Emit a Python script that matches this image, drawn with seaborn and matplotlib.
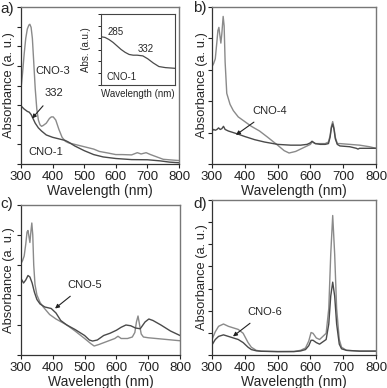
import numpy as np
import seaborn as sns
import matplotlib.pyplot as plt

# ---- data (absorbance in arbitrary, normalised units) ----
# panel a
a_cno3_wl = [300, 305, 310, 315, 320, 325, 328, 332, 336, 340, 345, 350, 355, 360, 365, 370, 380, 390,
             396, 402, 410, 420, 430, 440, 450, 470, 500, 530, 548, 575, 600, 620, 650, 668, 680, 696,
             710, 730, 750, 780, 800]
a_cno3_abs = [0.48, 0.58, 0.70, 0.80, 0.86, 0.885, 0.89, 0.87, 0.80, 0.66, 0.48, 0.35, 0.28, 0.25, 0.24,
              0.245, 0.26, 0.29, 0.30, 0.30, 0.28, 0.22, 0.17, 0.145, 0.135, 0.125, 0.11, 0.095, 0.08,
              0.07, 0.06, 0.06, 0.058, 0.072, 0.064, 0.072, 0.06, 0.045, 0.03, 0.025, 0.022]
a_cno1_wl = [300, 310, 320, 326, 332, 338, 345, 355, 365, 380, 400, 420, 440, 450, 470, 500, 530, 560,
             600, 650, 700, 740, 770, 800]
a_cno1_abs = [0.37, 0.35, 0.335, 0.33, 0.315, 0.29, 0.26, 0.23, 0.21, 0.185, 0.17, 0.16, 0.15, 0.14,
              0.115, 0.085, 0.06, 0.045, 0.035, 0.028, 0.027, 0.02, 0.012, 0.008]
inset_wl = [280, 285, 290, 295, 300, 305, 310, 315, 320, 325, 332, 338, 345, 352, 360, 372]
inset_abs = [0.68, 0.67, 0.64, 0.60, 0.55, 0.50, 0.46, 0.43, 0.42, 0.42, 0.41, 0.37, 0.31, 0.26, 0.245, 0.235]

# panel b
b_light_wl = [300, 305, 310, 315, 318, 321, 324, 327, 330, 334, 337, 340, 345, 355, 365, 380, 400, 420,
              445, 470, 500, 520, 535, 555, 575, 590, 600, 605, 615, 630, 645, 655, 660, 664, 668, 672,
              676, 682, 690, 720, 750, 780, 800]
b_light_abs = [0.62, 0.64, 0.67, 0.78, 0.85, 0.87, 0.82, 0.77, 0.83, 0.94, 0.88, 0.65, 0.45, 0.38, 0.34,
               0.30, 0.27, 0.24, 0.21, 0.17, 0.12, 0.085, 0.07, 0.08, 0.10, 0.115, 0.125, 0.14, 0.13,
               0.13, 0.13, 0.14, 0.18, 0.24, 0.27, 0.23, 0.17, 0.13, 0.13, 0.125, 0.12, 0.11, 0.10]
b_cno4_wl = [300, 305, 310, 315, 320, 325, 330, 335, 340, 350, 365, 380, 400, 430, 460, 500, 540, 570,
             590, 600, 605, 615, 630, 645, 655, 660, 664, 668, 672, 676, 682, 690, 720, 740, 745, 750,
             780, 800]
b_cno4_abs = [0.21, 0.22, 0.215, 0.22, 0.23, 0.22, 0.225, 0.24, 0.22, 0.21, 0.20, 0.19, 0.175, 0.155,
              0.14, 0.125, 0.12, 0.12, 0.125, 0.135, 0.145, 0.13, 0.125, 0.125, 0.13, 0.17, 0.23, 0.255,
              0.22, 0.16, 0.125, 0.115, 0.11, 0.10, 0.095, 0.10, 0.10, 0.10]

# panel c
c_light_wl = [300, 305, 310, 315, 319, 322, 325, 328, 331, 334, 337, 340, 344, 350, 360, 370, 390, 410,
              444, 470, 500, 520, 530, 545, 570, 595, 605, 615, 635, 650, 658, 663, 668, 673, 678, 685,
              700, 750, 800]
c_light_abs = [0.61, 0.63, 0.66, 0.74, 0.82, 0.83, 0.79, 0.75, 0.82, 0.88, 0.80, 0.60, 0.47, 0.40, 0.35,
               0.32, 0.27, 0.24, 0.20, 0.16, 0.11, 0.075, 0.06, 0.07, 0.09, 0.11, 0.125, 0.11, 0.11,
               0.12, 0.15, 0.22, 0.26, 0.20, 0.14, 0.12, 0.115, 0.105, 0.095]
c_cno5_wl = [300, 308, 315, 322, 328, 335, 342, 350, 360, 375, 395, 410, 425, 444, 470, 500, 515, 525,
             540, 560, 580, 600, 615, 630, 645, 660, 675, 690, 702, 715, 740, 770, 800]
c_cno5_abs = [0.51, 0.48, 0.50, 0.53, 0.52, 0.48, 0.42, 0.37, 0.34, 0.32, 0.31, 0.28, 0.23, 0.20, 0.17,
              0.13, 0.10, 0.093, 0.10, 0.13, 0.145, 0.165, 0.185, 0.20, 0.195, 0.18, 0.175, 0.22, 0.24,
              0.23, 0.20, 0.16, 0.13]

# panel d
d_wl = [300, 310, 320, 335, 350, 365, 380, 395, 410, 420, 435, 450, 500, 550, 570, 585, 595, 602, 608,
        618, 628, 638, 648, 656, 662, 668, 674, 680, 688, 695, 710, 750, 800]
d_high_abs = [0.10, 0.15, 0.185, 0.20, 0.185, 0.175, 0.165, 0.14, 0.08, 0.05, 0.03, 0.025, 0.022, 0.023,
              0.03, 0.045, 0.09, 0.145, 0.14, 0.11, 0.10, 0.12, 0.14, 0.30, 0.65, 0.90, 0.65, 0.30,
              0.10, 0.05, 0.03, 0.025, 0.025]
d_low_abs = [0.065, 0.10, 0.12, 0.13, 0.12, 0.11, 0.10, 0.08, 0.05, 0.035, 0.027, 0.024, 0.022, 0.022,
             0.026, 0.035, 0.06, 0.095, 0.095, 0.08, 0.07, 0.085, 0.10, 0.20, 0.38, 0.47, 0.38, 0.20,
             0.07, 0.04, 0.03, 0.025, 0.025]

x_ticks = [300, 400, 500, 600, 700, 800]

sns.set_style("ticks")
plt.rcParams['font.family'] = ['Liberation Sans', 'DejaVu Sans']

dark = '#4a4a4a'
light = '#8a8a8a'

W, H = 387, 388
fig = plt.figure(figsize=(W / 100, H / 100), dpi=100)


def px_axes(left, top, right, bottom):
    return fig.add_axes([left / W, 1 - bottom / H, (right - left) / W, (bottom - top) / H])


def style(ax, n_yticks, ylab_x):
    ax.set_xlim(300, 800)
    ax.set_ylim(0, 1)
    ax.set_xticks(x_ticks)
    ax.set_yticks(np.linspace(0, 1, n_yticks + 1))
    ax.set_yticklabels([])
    ax.tick_params(direction='out', length=3, width=0.8, labelsize=9.5, pad=2, colors='#222')
    ax.set_xlabel('Wavelength (nm)', fontsize=10, labelpad=1)
    ax.set_ylabel('Absorbance (a. u.)', fontsize=9.3)
    ax.yaxis.set_label_coords(ylab_x, 0.5)
    for s in ['left', 'bottom']:
        ax.spines[s].set_color('#333')
        ax.spines[s].set_linewidth(0.9)
    for s in ['top', 'right']:
        ax.spines[s].set_visible(True)
        ax.spines[s].set_color('#777')
        ax.spines[s].set_linewidth(1.0)


def label(ax, text, xy_text, xy_tip, size=8):
    ax.annotate(text, xy=xy_tip, xytext=xy_text, fontsize=size, ha='center', va='center',
                arrowprops=dict(arrowstyle='-|>', color='#222', lw=0.8, mutation_scale=6,
                                shrinkA=4, shrinkB=0))


# a)
ax = px_axes(21, 7, 179, 164)
sns.lineplot(x=a_cno3_wl, y=a_cno3_abs, ax=ax, color=light, lw=1.0)
sns.lineplot(x=a_cno1_wl, y=a_cno1_abs, ax=ax, color=dark, lw=1.0)
style(ax, 8, -0.035)
ax.text(400, 0.59, 'CNO-3', fontsize=8, ha='center', va='center')
ax.text(379, 0.076, 'CNO-1', fontsize=8, ha='center', va='center')
label(ax, '332', (404, 0.45), (335, 0.29))

ins = px_axes(101, 14, 175, 85)
sns.lineplot(x=inset_wl, y=inset_abs, ax=ins, color=dark, lw=0.9)
ins.set_xlim(280, 372)
ins.set_ylim(0, 1)
ins.set_xticks([])
ins.set_yticks(np.linspace(0, 1, 7))
ins.set_yticklabels([])
ins.tick_params(direction='out', length=2, width=0.7)
ins.set_xlabel('Wavelength (nm)', fontsize=7, labelpad=3)
ins.set_ylabel('Abs. (a.u.)', fontsize=7, labelpad=2)
for s in ins.spines.values():
    s.set_visible(True)
    s.set_color('#444')
    s.set_linewidth(0.8)
ins.text(298, 0.75, '285', fontsize=7, ha='center', va='center')
ins.text(336, 0.50, '332', fontsize=7, ha='center', va='center')
ins.text(306, 0.11, 'CNO-1', fontsize=7, ha='center', va='center')

# b)
ax = px_axes(212, 7, 376, 164)
sns.lineplot(x=b_light_wl, y=b_light_abs, ax=ax, color=light, lw=1.0)
sns.lineplot(x=b_cno4_wl, y=b_cno4_abs, ax=ax, color=dark, lw=1.0)
style(ax, 5, -0.025)
label(ax, 'CNO-4', (477, 0.34), (373, 0.185))

# c)
ax = px_axes(21, 205, 180, 355)
sns.lineplot(x=c_light_wl, y=c_light_abs, ax=ax, color=light, lw=1.0)
sns.lineplot(x=c_cno5_wl, y=c_cno5_abs, ax=ax, color=dark, lw=1.0)
style(ax, 5, -0.035)
label(ax, 'CNO-5', (501, 0.47), (407, 0.31))

# d)
ax = px_axes(212, 200, 376, 355)
sns.lineplot(x=d_wl, y=d_high_abs, ax=ax, color=light, lw=1.0)
sns.lineplot(x=d_wl, y=d_low_abs, ax=ax, color=dark, lw=1.0)
style(ax, 7, -0.025)
label(ax, 'CNO-6', (462, 0.28), (364, 0.12))

for t, x, y in [('a)', 0, 9), ('b)', 193, 8), ('c)', 0, 204), ('d)', 193, 204)]:
    fig.text(x / W, 1 - y / H, t, fontsize=11, ha='left', va='center')

fig.savefig('out.png', dpi=100)
